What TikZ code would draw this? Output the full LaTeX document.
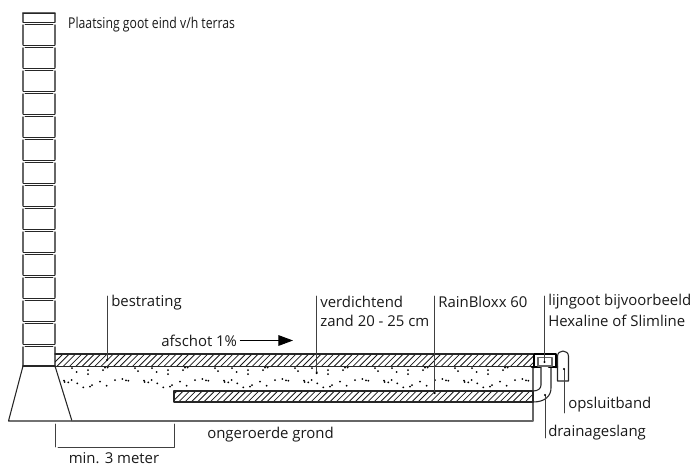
\documentclass[tikz,border=0pt]{standalone}
\usepackage{fontspec}
\setmainfont{Open Sans}
\usetikzlibrary{arrows.meta}
\tikzset{
	wallline/.style={line width=1.1pt,color=black!60},
	jointline/.style={line width=0.7pt,color=black!85},
	planline/.style={line width=0.8pt,color=black!85},
	hatchline/.style={line width=0.6pt,color=black!90},
	leaderline/.style={line width=0.7pt,color=black!75},
	lbl/.style={anchor=west,inner sep=0pt,font=\fontsize{11.2}{13}\selectfont,color=black!90}
}
\begin{document}
\begin{tikzpicture}[line cap=round,line join=round,x=0.75pt,y=-0.75pt]
	\useasboundingbox (0,0) rectangle (692,465);
	% muur
	\draw[wallline] (23,22) -- (23,13) -- (55,13) -- (55,22);
	\draw[jointline] (23,13) -- (55,13);
	\foreach \yy in {22,45,...,344}{
		\draw[jointline] (23,\yy) -- (55,\yy);
		\draw[jointline] (25,\yy+2.5) -- (53,\yy+2.5);
		\draw[wallline] (23,\yy+3) -- (23,\yy+22.5);
		\draw[wallline] (55,\yy+3) -- (55,\yy+22.5);
	}
	\draw[planline] (23,366) -- (55,366);
	% fundering
	\draw[planline] (23,366) -- (8.5,421) -- (72,421) -- (55,366);
	% grond
	\draw[wallline] (72,421) -- (533,421) -- (533,367);
	% bestrating en RainBloxx
	\begin{scope}
		\clip (55,354) rectangle (533,366);
		\foreach \xx in {50,56.3,...,545}{
			\draw[hatchline] (\xx,367) -- (\xx+13,354);
		}
	\end{scope}
	\begin{scope}
		\clip (174,391) rectangle (533,402);
		\foreach \xx in {165,171.3,...,545}{
			\draw[hatchline] (\xx,403) -- (\xx+12,391);
		}
	\end{scope}
	\draw[planline] (55,354) -- (533,354);
	\draw[planline] (55,366.5) -- (533,366.5);
	\draw[planline] (174,391) rectangle (533,402);
	% zand
	\begin{scope}
		\clip (58,367) rectangle (533,391);
		\foreach \dx in {-240,-160,...,160}{
			\foreach \px/\py in {328/370,328/374,343/370,345/367.5,347.7/367.5,378/371,304/380.7,304.7/382,308.3/382.3,311.7/380,317.3/383.3,323.3/387.3,330/386.7,332/385,340/381.7,346.7/385.7,355/380,362.3/379,366/380.3,368.3/380.7,316.7/372,375/368,312/368}{
				\fill[black] (\px+\dx,\py) circle (0.75pt);
			}
		}
	\end{scope}
	% drainageslang
	\draw[planline] (541,367) -- (541,385) .. controls (541,388.5) and (538,391) .. (533,391);
	\draw[planline] (551,367) -- (551,388) .. controls (551,396) and (545,402) .. (533,402);
	% lijngoot
	\draw[line width=2pt,black] (534,367) -- (534,354) -- (556,354) -- (556,367);
	\draw[line width=2pt,black] (532,367) -- (540,367);
	\draw[line width=2pt,black] (549,367) -- (557,367);
	\draw[planline] (538,366) -- (551,366);
	\draw[wallline] (538,357.5) rectangle (552,366);
	% opsluitband
	\draw[planline] (557.5,381) -- (557.5,356.5) .. controls (557.5,353) and (560,351) .. (563,351) .. controls (566,351) and (568.5,353) .. (568.5,356.5) -- (568.5,381) -- cycle;
	% maatlijn
	\draw[leaderline] (55,424) -- (55,447);
	\draw[leaderline] (58,447) -- (174,447) -- (174,424);
	% afschot
	\node[lbl] (afschot) at (161,340.5) {afschot 1\%};
	\coordinate (afschotend) at (293,340.5);
	\draw[line width=0.7pt,-{Triangle[length=11pt,width=8pt]}] (afschot.east) ++(3,0) -- (afschotend);
	% teksten
	\node[lbl,xscale=.82] (titel) at (68,25) {Plaatsing goot eind v/h terras};
	\node[lbl] (bestrating) at (111,303) {bestrating};
	\node[lbl] (zand) at (320,302) {verdichtend};
	\node[lbl] (zandb) at (320,321) {zand 20 - 25 cm};
	\node[lbl] (rainbloxx) at (438,302) {RainBloxx 60};
	\node[lbl] (goot) at (548,302) {lijngoot bijvoorbeeld};
	\node[lbl] (gootb) at (548,321) {Hexaline of Slimline};
	\node[lbl] (opsluit) at (568,405) {opsluitband};
	\node[lbl] (drain) at (548,433) {drainageslang};
	\node[lbl] (grond) at (207,435) {ongeroerde grond};
	\node[lbl,anchor=center] (meter) at (114,458) {min. 3 meter};
	% aanwijslijnen
	\foreach \nm/\xa/\ya/\yb in {best/107/296/360,zandl/316.7/296/373,rain/434.7/296/393,gootl/544.5/296/362,ops/564/413/369,dr/545/438/395}{
		\coordinate (\nm a) at (\xa,\ya);
		\coordinate (\nm b) at (\xa,\yb);
		\draw[leaderline] (\nm a) -- (\nm b);
		\fill[black] (\nm b) circle (0.9pt);
	}
\end{tikzpicture}
\end{document}
